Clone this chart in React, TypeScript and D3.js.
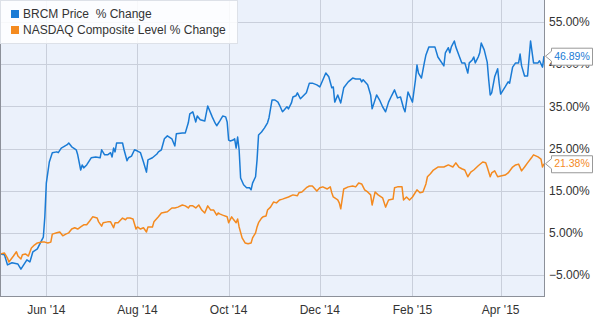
import React from "react";
import * as d3 from "d3";

const brcmSeries: [string, number][] = [
["2014-05-01",0],["2014-05-04",-0.2],["2014-05-06",-2.6],["2014-05-09",-2.1],["2014-05-13",-2.4],["2014-05-15",-3.6],["2014-05-19",-1.4],["2014-05-21",-1.9],["2014-05-23",0.5],["2014-05-26",1.2],["2014-05-28",2.6],["2014-05-30",4.0],["2014-05-31",8.8],["2014-06-01",16.8],["2014-06-03",21.8],["2014-06-05",24.0],["2014-06-08",24.2],["2014-06-09",24.0],["2014-06-11",25.1],["2014-06-15",25.9],["2014-06-16",26.3],["2014-06-18",25.4],["2014-06-21",24.7],["2014-06-22",23.5],["2014-06-24",19.9],["2014-06-25",21.1],["2014-06-26",20.4],["2014-06-28",21.1],["2014-07-01",22.8],["2014-07-04",23.0],["2014-07-07",22.8],["2014-07-08",24.7],["2014-07-10",23.5],["2014-07-12",23.5],["2014-07-14",24.0],["2014-07-15",23.0],["2014-07-16",25.1],["2014-07-17",24.2],["2014-07-18",26.3],["2014-07-22",26.3],["2014-07-23",24.7],["2014-07-25",22.1],["2014-07-26",22.8],["2014-07-28",23.2],["2014-07-30",24.7],["2014-08-01",24.4],["2014-08-03",24.0],["2014-08-05",21.8],["2014-08-07",19.4],["2014-08-08",22.3],["2014-08-11",22.8],["2014-08-14",23.7],["2014-08-15",24.2],["2014-08-17",24.7],["2014-08-19",27.3],["2014-08-21",28.0],["2014-08-24",27.3],["2014-08-26",25.6],["2014-08-27",28.5],["2014-08-31",28.7],["2014-09-02",28.7],["2014-09-04",31.1],["2014-09-05",33.2],["2014-09-07",33.7],["2014-09-09",31.3],["2014-09-10",32.7],["2014-09-12",31.8],["2014-09-15",31.5],["2014-09-17",35.1],["2014-09-20",32.5],["2014-09-22",31.0],["2014-09-23",30.4],["2014-09-25",31.5],["2014-09-27",32.7],["2014-09-29",32.5],["2014-09-30",31.3],["2014-10-01",27.0],["2014-10-02",26.8],["2014-10-04",27.0],["2014-10-05",27.3],["2014-10-06",25.1],["2014-10-07",27.7],["2014-10-08",24.7],["2014-10-09",18.0],["2014-10-11",16.4],["2014-10-13",15.7],["2014-10-15",15.7],["2014-10-16",15.2],["2014-10-17",16.8],["2014-10-19",18.3],["2014-10-20",22.3],["2014-10-21",28.2],["2014-10-23",28.9],["2014-10-25",29.9],["2014-10-27",31.1],["2014-10-28",32.3],["2014-10-30",36.5],["2014-11-01",36.5],["2014-11-03",36.0],["2014-11-04",35.3],["2014-11-06",33.7],["2014-11-07",34.1],["2014-11-09",34.9],["2014-11-10",34.4],["2014-11-12",35.8],["2014-11-13",37.2],["2014-11-15",37.5],["2014-11-16",38.2],["2014-11-18",36.8],["2014-11-20",37.5],["2014-11-22",38.2],["2014-11-24",40.5],["2014-11-26",40.5],["2014-11-29",40.1],["2014-12-01",39.6],["2014-12-05",42.9],["2014-12-07",42.0],["2014-12-09",39.4],["2014-12-10",39.6],["2014-12-11",36.0],["2014-12-13",37.7],["2014-12-15",35.8],["2014-12-17",39.4],["2014-12-20",40.8],["2014-12-23",41.7],["2014-12-25",41.5],["2014-12-28",41.5],["2014-12-29",40.8],["2014-12-30",41.3],["2015-01-02",40.1],["2015-01-04",37.7],["2015-01-05",34.4],["2015-01-08",37.7],["2015-01-10",36.5],["2015-01-12",34.9],["2015-01-14",33.7],["2015-01-16",36.0],["2015-01-18",37.5],["2015-01-20",38.9],["2015-01-22",37.0],["2015-01-24",37.2],["2015-01-26",34.6],["2015-01-27",33.7],["2015-01-29",38.4],["2015-02-01",36.0],["2015-02-03",41.3],["2015-02-04",44.8],["2015-02-05",42.9],["2015-02-07",41.7],["2015-02-09",45.5],["2015-02-10",47.2],["2015-02-12",49.1],["2015-02-16",49.1],["2015-02-18",46.7],["2015-02-22",44.6],["2015-02-23",47.7],["2015-02-25",48.9],["2015-02-26",47.7],["2015-02-27",49.1],["2015-03-01",50.5],["2015-03-02",49.1],["2015-03-04",47.2],["2015-03-06",45.3],["2015-03-08",45.3],["2015-03-10",42.9],["2015-03-11",45.3],["2015-03-13",46.0],["2015-03-14",46.7],["2015-03-15",45.3],["2015-03-17",46.7],["2015-03-18",47.7],["2015-03-19",50.0],["2015-03-21",48.4],["2015-03-23",45.5],["2015-03-24",41.3],["2015-03-25",37.7],["2015-03-26",38.2],["2015-03-28",42.0],["2015-03-30",43.9],["2015-03-31",40.5],["2015-04-01",37.9],["2015-04-04",39.6],["2015-04-06",40.8],["2015-04-07",40.5],["2015-04-09",44.3],["2015-04-11",45.3],["2015-04-13",45.3],["2015-04-14",47.4],["2015-04-15",44.6],["2015-04-17",42.2],["2015-04-19",42.2],["2015-04-21",50.5],["2015-04-23",45.3],["2015-04-26",45.3],["2015-04-27",45.8],["2015-04-29",44.3],["2015-04-30",46.89]
];

const nasdaqSeries: [string, number][] = [
["2014-05-01",0],["2014-05-04",0.2],["2014-05-06",-1.0],["2014-05-07",-1.9],["2014-05-10",-0.5],["2014-05-12",0.5],["2014-05-13",-0.5],["2014-05-15",-1.2],["2014-05-16",-0.2],["2014-05-18",0.0],["2014-05-20",-0.5],["2014-05-22",1.4],["2014-05-24",2.1],["2014-05-26",2.6],["2014-05-29",2.8],["2014-05-31",2.8],["2014-06-02",2.6],["2014-06-04",2.8],["2014-06-05",4.7],["2014-06-08",5.0],["2014-06-10",5.2],["2014-06-12",4.3],["2014-06-14",4.7],["2014-06-16",5.0],["2014-06-18",5.9],["2014-06-20",6.2],["2014-06-22",5.9],["2014-06-24",6.4],["2014-06-26",6.9],["2014-06-28",6.9],["2014-06-30",7.8],["2014-07-02",8.8],["2014-07-05",8.5],["2014-07-06",7.6],["2014-07-08",6.6],["2014-07-09",7.4],["2014-07-12",7.6],["2014-07-14",7.6],["2014-07-16",6.2],["2014-07-17",7.4],["2014-07-19",7.4],["2014-07-22",8.5],["2014-07-24",8.1],["2014-07-25",8.5],["2014-07-27",8.5],["2014-07-29",8.3],["2014-07-31",5.9],["2014-08-01",6.4],["2014-08-03",5.9],["2014-08-05",6.2],["2014-08-07",5.2],["2014-08-08",6.4],["2014-08-11",6.4],["2014-08-12",7.6],["2014-08-15",8.8],["2014-08-17",9.7],["2014-08-21",10.0],["2014-08-24",10.9],["2014-08-26",10.9],["2014-08-28",11.1],["2014-08-31",11.6],["2014-09-02",11.4],["2014-09-04",10.9],["2014-09-05",11.4],["2014-09-07",11.4],["2014-09-09",10.9],["2014-09-11",11.6],["2014-09-13",10.4],["2014-09-15",9.7],["2014-09-17",11.4],["2014-09-19",10.4],["2014-09-21",10.4],["2014-09-23",9.2],["2014-09-24",9.7],["2014-09-25",9.5],["2014-09-27",9.2],["2014-09-30",8.8],["2014-10-01",7.4],["2014-10-03",8.8],["2014-10-04",8.3],["2014-10-06",7.4],["2014-10-07",8.3],["2014-10-08",6.4],["2014-10-10",3.8],["2014-10-12",2.6],["2014-10-14",2.4],["2014-10-16",2.6],["2014-10-17",3.8],["2014-10-19",5.0],["2014-10-20",6.4],["2014-10-21",7.4],["2014-10-23",8.5],["2014-10-24",8.8],["2014-10-26",9.0],["2014-10-27",10.4],["2014-10-29",11.1],["2014-10-31",12.3],["2014-11-02",12.1],["2014-11-04",12.8],["2014-11-06",13.0],["2014-11-10",13.5],["2014-11-13",14.0],["2014-11-16",13.8],["2014-11-17",14.5],["2014-11-19",14.7],["2014-11-22",15.7],["2014-11-24",16.1],["2014-11-26",16.1],["2014-11-29",14.9],["2014-12-01",15.7],["2014-12-03",15.9],["2014-12-06",15.4],["2014-12-08",15.9],["2014-12-09",14.5],["2014-12-10",13.5],["2014-12-13",12.8],["2014-12-14",12.1],["2014-12-15",10.7],["2014-12-17",15.4],["2014-12-20",15.9],["2014-12-23",16.1],["2014-12-25",15.9],["2014-12-27",16.8],["2014-12-29",16.6],["2014-12-31",15.2],["2015-01-02",14.7],["2015-01-04",14.0],["2015-01-05",11.6],["2015-01-07",14.7],["2015-01-09",14.0],["2015-01-12",13.3],["2015-01-14",11.1],["2015-01-16",12.8],["2015-01-19",13.0],["2015-01-20",15.7],["2015-01-22",15.9],["2015-01-25",15.9],["2015-01-26",12.8],["2015-01-28",13.5],["2015-01-30",12.8],["2015-02-01",13.5],["2015-02-04",15.2],["2015-02-06",14.5],["2015-02-08",14.7],["2015-02-10",16.6],["2015-02-11",18.3],["2015-02-13",19.0],["2015-02-15",19.9],["2015-02-18",20.6],["2015-02-22",20.6],["2015-02-25",21.1],["2015-02-28",20.6],["2015-03-02",21.6],["2015-03-04",20.6],["2015-03-06",20.2],["2015-03-08",19.9],["2015-03-10",18.3],["2015-03-12",19.4],["2015-03-14",19.9],["2015-03-17",20.9],["2015-03-20",21.8],["2015-03-22",21.6],["2015-03-23",20.6],["2015-03-25",18.3],["2015-03-26",19.2],["2015-03-28",19.7],["2015-03-30",18.3],["2015-04-01",18.5],["2015-04-04",18.7],["2015-04-06",19.2],["2015-04-09",20.6],["2015-04-11",21.1],["2015-04-13",21.3],["2015-04-15",19.7],["2015-04-17",20.6],["2015-04-19",21.6],["2015-04-22",23.0],["2015-04-23",23.5],["2015-04-26",23.0],["2015-04-28",22.5],["2015-04-29",20.6],["2015-04-30",21.38]
];

const seriesNames = ["BRCM Price  % Change", "NASDAQ Composite Level % Change"];
const seriesColors = ["#1a7bd5", "#f48a1f"];
const yTicks = [-5, 5, 15, 25, 35, 45, 55];
const xTickDates = ["2014-06-01", "2014-08-01", "2014-10-01", "2014-12-01", "2015-02-01", "2015-04-01"];
const xDomain = ["2014-05-01", "2015-04-30"];

const W = 595;
const H = 323;
const plotLeft = 0;
const plotRight = 544;
const plotTop = 0;
const plotBottom = 296;
const FONT = "'Liberation Sans', Arial, sans-serif";

export default function App() {
  const parse = d3.timeParse("%Y-%m-%d");
  const x = d3.scaleTime().domain(xDomain.map((s) => parse(s) as Date)).range([plotLeft, plotRight]);
  const y = d3.scaleLinear().domain([-5, 55]).range([275, 22]);
  const line = d3
    .line<[string, number]>()
    .x((d) => x(parse(d[0]) as Date))
    .y((d) => y(d[1]));
  const all = [brcmSeries, nasdaqSeries];
  const fmtTick = d3.timeFormat("%b '%y");

  return (
    <svg width={W} height={H} style={{ position: "absolute", left: 0, top: 0, fontFamily: FONT }}>
      <rect x={0} y={0} width={W} height={H} fill="#ffffff" />
      <rect x={plotLeft} y={plotTop} width={plotRight - plotLeft} height={plotBottom - plotTop} fill="#ebf1fb" />
      {yTicks.map((t) => (
        <line key={"gy" + t} x1={plotLeft} x2={plotRight} y1={Math.round(y(t)) + 0.5} y2={Math.round(y(t)) + 0.5} stroke="#c9cfdb" strokeWidth={1} />
      ))}
      {xTickDates.map((s) => {
        const px = Math.round(x(parse(s) as Date)) + 0.5;
        return <line key={"gx" + s} x1={px} x2={px} y1={plotTop} y2={plotBottom} stroke="#c9cfdb" strokeWidth={1} />;
      })}
      {all.map((data, i) => (
        <path key={"l" + i} d={line(data) || ""} fill="none" stroke={seriesColors[i]} strokeWidth={1.5} strokeLinejoin="round" />
      ))}
      <line x1={plotLeft + 0.5} x2={plotLeft + 0.5} y1={plotTop} y2={plotBottom} stroke="#8c9099" />
      <line x1={plotRight + 0.5} x2={plotRight + 0.5} y1={plotTop} y2={plotBottom} stroke="#8c9099" />
      <line x1={plotLeft} x2={plotRight + 1} y1={plotBottom + 0.5} y2={plotBottom + 0.5} stroke="#8c9099" />
      {yTicks.map((t) => (
        <text key={"ty" + t} x={549} y={y(t)} dy="0.35em" fontSize={12} fill="#333">
          {d3.format(".2f")(t) + "%"}
        </text>
      ))}
      {xTickDates.map((s) => (
        <text key={"tx" + s} x={x(parse(s) as Date)} y={314} textAnchor="middle" fontSize={12} fill="#333">
          {fmtTick(parse(s) as Date)}
        </text>
      ))}
      <rect x={0.5} y={0.5} width={237} height={43} fill="#ffffff" fillOpacity={0.85} stroke="#dde1e8" />
      {seriesNames.map((n, i) => (
        <g key={"lg" + i}>
          <rect x={11} y={10 + i * 16} width={8} height={8} fill={seriesColors[i]} />
          <text x={23} y={14 + i * 16} dy="0.35em" fontSize={12} fill="#333" style={{ whiteSpace: "pre" }}>
            {n}
          </text>
        </g>
      ))}
      {all.map((data, i) => {
        const last = data[data.length - 1];
        const cy = y(last[1]);
        const bx = 551;
        const bw = 41;
        const bh = 17;
        const top = cy - bh / 2;
        const p = `M${bx + 0.5},${top + 0.5} L${bx + bw + 0.5},${top + 0.5} L${bx + bw + 0.5},${top + bh + 0.5} L${bx + 0.5},${top + bh + 0.5} L${bx + 0.5},${cy + 5} L${545.5},${cy} L${bx + 0.5},${cy - 5} Z`;
        return (
          <g key={"lab" + i}>
            <path d={p} fill="#ffffff" stroke="#999" strokeWidth={1} />
            <text x={bx + bw / 2 + 0.5} y={cy} dy="0.35em" textAnchor="middle" fontSize={10.5} fill={seriesColors[i]}>
              {d3.format(".2f")(last[1]) + "%"}
            </text>
          </g>
        );
      })}
    </svg>
  );
}
